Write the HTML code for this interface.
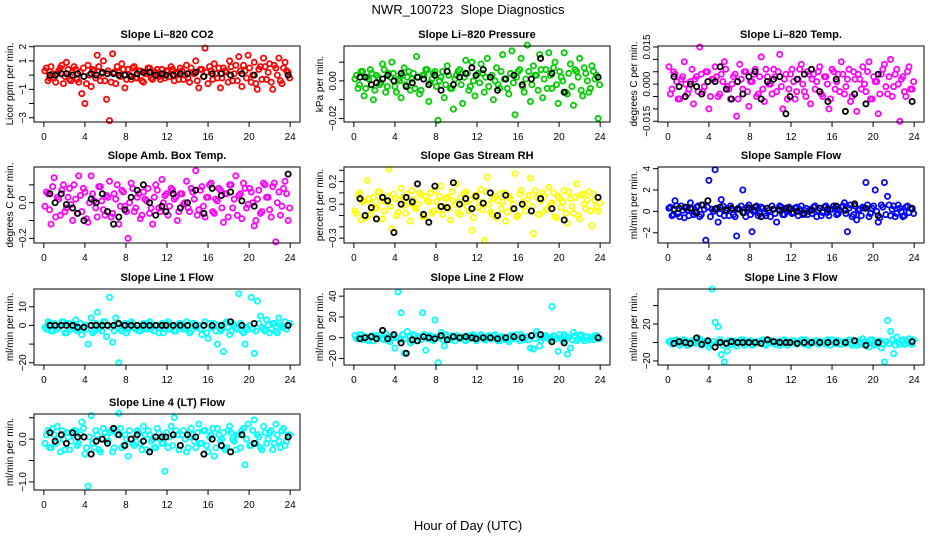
<!DOCTYPE html>
<html><head><meta charset="utf-8"><style>
html,body{margin:0;padding:0;background:#fff;}
svg{display:block;font-family:"Liberation Sans",sans-serif;}
</style></head><body>
<svg id="chart" width="936" height="540" viewBox="0 0 936 540">
<text x="468" y="14" text-anchor="middle" font-size="13">NWR_100723&#160;&#160;Slope Diagnostics</text>
<text x="468" y="530" text-anchor="middle" font-size="13">Hour of Day (UTC)</text>
</svg>
<script>
const hours = [0.1,0.4,0.7,1.0,1.3,1.6,1.9,2.2,2.5,2.8,3.1,3.4,3.7,4.0,4.3,4.6,4.9,5.2,5.5,5.8,6.1,6.4,6.7,7.0,7.3,7.6,7.9,8.2,8.5,8.8,9.1,9.4,9.7,10.0,10.3,10.6,10.9,11.2,11.5,11.8,12.1,12.4,12.7,13.0,13.3,13.6,13.9,14.2,14.5,14.8,15.1,15.4,15.7,16.0,16.3,16.6,16.9,17.2,17.5,17.8,18.1,18.4,18.7,19.0,19.3,19.6,19.9,20.2,20.5,20.8,21.1,21.4,21.7,22.0,22.3,22.6,22.9,23.2,23.5,23.8];
const hours2 = [0.25,0.55,0.85,1.15,1.45,1.75,2.05,2.35,2.65,2.95,3.25,3.55,3.85,4.15,4.45,4.75,5.05,5.35,5.65,5.95,6.25,6.55,6.85,7.15,7.45,7.75,8.05,8.35,8.65,8.95,9.25,9.55,9.85,10.15,10.45,10.75,11.05,11.35,11.65,11.95,12.25,12.55,12.85,13.15,13.45,13.75,14.05,14.35,14.65,14.95,15.25,15.55,15.85,16.15,16.45,16.75,17.05,17.35,17.65,17.95,18.25,18.55,18.85,19.15,19.45,19.75,20.05,20.35,20.65,20.95,21.25,21.55,21.85,22.15,22.45,22.75,23.05,23.35,23.65,23.95];
const meanHours = [0.6,1.1,1.7,2.2,2.8,3.3,3.9,4.6,5.1,5.7,6.2,6.8,7.3,7.9,8.5,9.1,9.7,10.3,10.9,11.5,11.9,12.6,13.3,14.0,14.8,15.6,16.4,17.3,18.2,19.3,20.5,23.8];
const xTicks = [0,4,8,12,16,20,24];

const co2 = [0.3,-0.4,0.6,-0.2,0.1,0.5,-0.6,0.9,-0.3,0.2, 0.4,-0.5,-1.3,-2.0,0.7,-0.8,0.3,1.4,-0.4,1.0, -1.7,-3.2,1.5,-0.6,0.2,0.8,-0.9,0.4,-0.3,0.6, -0.2,0.3,-0.5,0.1,0.5,-0.3,0.2,-0.1,0.4,-0.2, 0.3,0.6,-0.4,0.1,0.5,-0.3,0.7,-0.5,0.2,1.0, -0.9,0.4,1.9,-0.6,0.3,0.8,-0.2,-0.9,0.5,0.2, 1.0,-0.4,0.7,1.3,-0.8,0.3,1.4,-0.5,0.9,-1.0, 0.6,1.2,-0.3,0.8,-1.0,0.5,1.2,-0.6,0.9,0.2];
const co2Band = [0.5,-0.2,0.1,-0.5,0.3,0.7,-0.1,0.4,-0.4,0.6, -0.3,0.2,0.5,-0.6,0.0,0.4,-0.2,0.6,0.1,-0.4, 0.3,-0.5,0.2,0.6,-0.1,0.4,-0.3,0.0,0.5,-0.2, 0.3,-0.4,0.1,0.5,-0.2,0.2,0.4,-0.3,0.0,0.3, -0.1,0.4,0.2,-0.3,0.3,0.0,-0.2,0.5,0.1,-0.4, 0.4,-0.1,0.2,0.6,-0.3,0.1,0.5,-0.2,0.3,-0.5, 0.6,0.1,-0.4,0.3,0.7,-0.2,0.5,0.0,-0.6,0.4, -0.3,0.6,0.2,-0.5,0.7,0.0,-0.4,0.5,0.3,-0.2];
const co2Mean = [0,0,0.1,0.1,0,0.1,-0.1,0.1,0,0.2,0.1,0.1,0,0,-0.1,0.1,0.2,0.2,0,0.1,0,0,0.1,0.1,0.2,-0.1,0.1,0.1,0,0.1,0,0];
const pres = [0.001,-0.004,0.005,-0.008,0.002,0.006,-0.010,0.003,-0.002,0.009, -0.006,0.004,0.010,-0.003,0.001,-0.009,0.007,0.002,-0.005,0.004, 0.013,-0.007,0.003,0.006,-0.011,0.001,0.005,-0.021,0.002,-0.009, 0.008,-0.004,-0.015,0.003,0.006,-0.012,0.011,-0.005,0.010,-0.008, 0.004,0.009,-0.006,0.012,0.002,-0.010,0.007,-0.004,0.014,0.001, -0.007,0.016,-0.018,0.005,0.012,-0.006,0.019,-0.011,0.008,0.003, 0.014,-0.009,0.006,0.015,-0.004,0.010,-0.012,0.002,0.015,-0.007, 0.009,-0.013,0.005,0.012,-0.008,0.004,-0.006,0.008,0.001,-0.020];
const presBand = [0.003,-0.002,0.005,-0.004,0.001,0.004,-0.005,0.002,-0.001,0.006, -0.003,0.002,0.004,-0.006,0.000,0.003,-0.002,0.005,0.001,-0.004, 0.002,-0.005,0.003,0.006,-0.001,0.004,-0.003,0.000,0.005,-0.002, 0.003,-0.004,0.001,0.005,-0.002,0.002,0.004,-0.003,0.000,0.003, -0.001,0.004,0.002,-0.003,0.003,0.000,-0.002,0.005,0.001,-0.004, 0.004,-0.001,0.002,0.006,-0.003,0.001,0.005,-0.002,0.003,-0.005, 0.006,0.001,-0.004,0.003,0.007,-0.002,0.005,0.000,-0.006,0.004, -0.003,0.006,0.002,-0.005,0.007,0.000,-0.004,0.005,0.003,-0.002];
const presMean = [0.002,0.002,-0.002,-0.001,0.001,0.003,0,0.004,-0.003,-0.001,0.002,0.001,-0.002,0.003,-0.005,0.005,-0.002,0.002,0.004,0.007,0.003,0.006,0.002,-0.005,0.001,0.003,-0.002,0.001,0.012,0.004,-0.006,0.002];
const temp = [0.007,-0.002,0.004,-0.006,0.002,0.009,-0.004,0.001,-0.008,0.003, 0.015,-0.003,0.005,-0.010,0.002,0.007,-0.005,0.004,0.009,-0.001, -0.006,0.003,-0.013,0.008,-0.002,0.005,-0.009,0.001,0.006,-0.004, 0.011,-0.007,0.003,0.000,0.006,-0.003,0.012,-0.010,0.004,-0.002, 0.006,-0.006,0.002,0.008,-0.003,0.005,-0.008,0.004,0.001,0.007, -0.005,0.003,-0.010,0.006,-0.002,0.004,0.009,-0.004,0.002,-0.007, 0.005,-0.011,0.002,0.007,-0.003,0.009,-0.006,0.001,-0.012,0.004, 0.008,-0.004,0.010,-0.001,0.006,-0.015,0.003,-0.005,0.007,-0.002];
const tempBand = [-0.004,0.005,0.001,-0.006,0.003,0.000,-0.002,0.006,0.002,-0.003, 0.004,-0.001,0.005,-0.005,0.002,0.003,-0.004,0.001,0.006,-0.002, 0.000,0.004,-0.006,0.002,0.005,-0.003,0.001,0.004,-0.005,0.003, -0.002,0.006,0.000,-0.004,0.003,0.005,-0.001,0.002,-0.006,0.004, 0.001,-0.003,0.006,0.000,-0.005,0.004,0.002,-0.002,0.005,-0.004, 0.003,0.000,-0.006,0.005,0.001,-0.003,0.004,-0.001,0.006,-0.005, 0.002,0.004,-0.002,0.000,0.005,-0.006,0.003,0.001,-0.004,0.006, -0.001,0.003,-0.005,0.004,0.000,0.002,-0.003,0.005,-0.002,0.001];
const tempMean = [0.003,-0.001,-0.005,0.000,-0.001,-0.004,0.001,0.001,0.007,-0.002,-0.006,0.001,-0.004,0.003,0.005,-0.006,0.001,0.002,0.003,-0.012,-0.005,0.002,0.004,0.006,-0.003,-0.007,0.002,-0.011,-0.004,-0.008,0.004,-0.007];
const amb = [-0.02,0.05,-0.12,0.14,0.03,-0.07,0.10,-0.03,0.08,-0.10, 0.02,0.15,-0.05,0.06,-0.11,0.15,0.01,-0.08,0.09,-0.04, 0.04,0.12,-0.06,0.02,-0.12,0.07,-0.02,-0.20,0.11,-0.05, 0.03,-0.09,0.06,0.01,-0.06,-0.12,0.10,-0.03,0.13,0.04, -0.07,0.08,0.02,-0.10,0.05,-0.01,0.12,-0.05,0.06,0.18, -0.04,0.09,-0.08,0.03,0.11,-0.06,0.01,0.07,-0.11,0.05, 0.10,-0.03,0.15,0.04,-0.09,0.08,-0.01,0.06,-0.13,0.02, -0.06,0.11,0.03,-0.04,0.09,-0.22,0.06,-0.02,0.12,-0.10];
const ambBand = [0.06,-0.04,0.09,-0.08,0.02,0.07,-0.05,0.03,-0.01,0.10, -0.06,0.04,0.08,-0.09,0.00,0.05,-0.03,0.09,0.01,-0.07, 0.03,-0.08,0.05,0.10,-0.02,0.06,-0.05,0.00,0.08,-0.03, 0.05,-0.07,0.02,0.08,-0.03,0.03,0.07,-0.05,0.00,0.05, -0.02,0.07,0.03,-0.05,0.05,0.00,-0.03,0.08,0.02,-0.07, 0.07,-0.02,0.03,0.10,-0.05,0.02,0.08,-0.03,0.05,-0.08, 0.10,0.02,-0.07,0.05,0.11,-0.03,0.08,0.00,-0.10,0.07, -0.05,0.10,0.03,-0.08,0.11,0.00,-0.07,0.08,0.05,-0.03];
const ambMean = [0.05,0.00,0.05,-0.01,-0.03,-0.06,-0.10,0.02,0.00,0.05,-0.05,-0.12,-0.08,-0.04,0.03,0.07,0.10,0.00,-0.07,-0.02,-0.05,0.05,-0.03,0.00,0.07,-0.06,0.08,0.04,0.06,0.01,-0.02,0.16];
const rh = [-0.06,0.08,-0.14,0.03,0.21,-0.09,0.06,-0.03,0.11,-0.13, 0.02,0.31,-0.22,0.05,-0.07,0.14,-0.01,0.09,-0.15,0.04, -0.04,0.10,-0.11,0.07,0.02,-0.08,0.12,-0.05,0.16,-0.02, 0.06,-0.14,0.03,0.18,-0.09,0.01,0.11,-0.06,-0.23,0.08, -0.03,0.13,-0.32,0.24,-0.07,0.05,-0.12,0.09,0.02,-0.15, 0.07,-0.04,0.27,-0.10,0.12,-0.02,0.04,0.23,-0.26,0.06, -0.09,0.10,-0.05,0.15,0.01,-0.11,0.07,-0.03,0.12,-0.17, 0.05,-0.08,0.18,-0.13,0.09,-0.04,0.11,-0.19,0.03,-0.06];
const rhBand = [-0.08,0.10,0.02,-0.12,0.05,0.00,-0.04,0.11,0.03,-0.06, 0.07,-0.02,0.09,-0.10,0.04,0.06,-0.08,0.01,0.12,-0.03, 0.00,0.08,-0.11,0.03,0.10,-0.06,0.02,0.07,-0.09,0.05, -0.04,0.11,0.00,-0.07,0.06,0.09,-0.02,0.04,-0.12,0.08, 0.02,-0.05,0.11,0.00,-0.09,0.07,0.03,-0.04,0.10,-0.07, 0.05,0.00,-0.11,0.09,0.02,-0.06,0.08,-0.02,0.12,-0.09, 0.03,0.07,-0.04,0.00,0.10,-0.12,0.05,0.02,-0.08,0.11, -0.02,0.06,-0.10,0.08,0.00,0.04,-0.06,0.09,-0.03,0.01];
const rhMean = [0.05,-0.10,-0.03,-0.13,0.06,0.03,-0.25,0.00,0.06,0.02,0.18,-0.09,-0.16,0.16,-0.02,-0.03,0.19,0.00,0.05,-0.04,0.07,0.01,0.10,-0.10,0.08,-0.04,0.00,-0.06,0.05,-0.04,-0.14,0.06];
const samp = [0.3,-0.4,1.0,-0.2,0.5,-0.6,0.1,0.8,-0.3,0.4, -0.5,0.6,-2.7,2.9,0.2,3.9,-1.0,1.1,-0.4,0.3, 0.5,-0.3,-2.3,0.2,2.0,-0.5,0.6,-1.9,0.1,-0.4, 0.4,-0.2,0.3,-0.5,0.2,-1.0,0.5,-0.3,0.1,0.4, -0.2,0.3,-0.4,0.5,0.1,-0.3,0.2,0.4,-0.5,0.3, -0.1,0.5,-0.4,0.2,0.3,-0.2,0.4,0.8,-1.9,0.6, -0.3,-0.8,0.2,0.4,2.7,-0.5,0.3,2.0,-1.0,0.6, 2.7,1.4,-0.4,0.5,-0.2,0.3,-0.5,0.4,-0.1,0.2];
const sampBand = [0.4,-0.3,0.5,-0.5,0.1,0.3,-0.4,0.2,-0.1,0.5, -0.3,0.2,0.4,-0.5,0.0,0.3,-0.2,0.5,0.1,-0.4, 0.2,-0.5,0.3,0.5,-0.1,0.4,-0.3,0.0,0.5,-0.2, 0.3,-0.4,0.1,0.5,-0.2,0.2,0.4,-0.3,0.0,0.3, -0.1,0.4,0.2,-0.3,0.3,0.0,-0.2,0.5,0.1,-0.4, 0.4,-0.1,0.2,0.5,-0.3,0.1,0.5,-0.2,0.3,-0.5, 0.5,0.1,-0.4,0.3,0.6,-0.2,0.5,0.0,-0.6,0.4, -0.3,0.6,0.2,-0.5,0.6,0.0,-0.4,0.5,0.3,-0.2];
const sampMean = [0.2,0.3,0.4,0.3,-0.1,0.6,1.0,0.2,0.4,0.1,0.3,0.2,-0.1,0.3,0.4,-0.5,0.3,0.2,0.1,0.3,0.2,0.0,-0.2,0.1,0.3,0.2,0.5,0.1,0.7,0.3,-0.4,0.3];
const line1 = [-1,2,-3,1,-2,0,2,-4,1,-1, 3,-2,-5,0,-10,4,-3,7,-1,2, -6,15,-9,4,-20,-3,1,-2,2,-1, 0,-3,1,-2,2,-1,0,-4,1,-2, 2,-1,-3,0,1,-2,2,-4,1,-1, 0,-5,2,-7,-1,1,-10,-3,-14,2, -5,1,-1,17,-3,-10,-2,15,-15,13, 5,-2,3,-4,1,-3,4,-1,2,0];
const line1Band = [-2,1,-3,0,-1,2,-4,1,-2,0, -3,1,-1,-2,0,-4,1,-2,-3,2, 0,-1,-3,1,-2,0,-4,-1,1,-2, -3,0,-1,1,-2,-3,0,-1,-4,1, -2,0,-3,1,-1,-2,0,-3,1,-1, -2,0,-4,1,-1,-3,0,-2,1,-1, -3,0,-2,1,-4,-1,0,-2,-3,1, -1,-3,0,-2,1,-4,0,-1,-2,1];
const line1Mean = [0,0,0,0,0,-1,-1,0,0,0,0,0,1,0,0,0,0,0,0,0,0,0,0,0,0,0,0,0,2,0,1,0];
const line2 = [2,-1,3,0,-2,1,-3,2,0,-1, 4,-2,1,-10,44,24,-15,6,-5,3, -3,1,24,-12,2,-2,17,-24,5,-8, 1,-2,0,2,-1,1,-3,0,2,-1, 0,3,-2,1,-1,2,0,-3,1,-2, -4,2,0,-1,3,-2,1,-10,-11,6, -8,0,2,-1,30,1,-13,0,3,-16, -10,5,-3,2,-1,1,-2,0,2,-1];
const line2Band = [-1,3,-2,1,-3,2,0,-1,3,-2, 1,-4,2,0,-2,3,-1,1,-3,2, 0,-2,3,-1,2,-3,1,0,-2,3, -1,2,-3,1,0,-2,2,-1,3,-3, 1,0,-2,2,-1,3,-3,1,0,-2, 2,-1,3,-3,1,0,-2,2,-1,3, -3,1,0,-2,2,-1,3,-3,1,0, -2,2,-1,3,-3,1,0,-2,2,-1];
const line2Mean = [-1,0,1,-1,7,-1,3,-5,-15,-2,-3,1,0,-1,2,-2,1,0,1,0,-1,0,0,-1,0,1,0,2,3,-4,-5,0];
const line3 = [1,-2,2,0,-1,3,-3,1,0,2, 4,-2,1,-5,58,22,17,-13,-21,-9, -2,2,-4,1,3,-1,2,-3,0,1, 1,-2,2,0,-1,1,-3,2,0,-1, 2,-1,0,3,-2,1,-1,0,2,-1, 0,-2,1,3,-1,2,-2,0,1,-1, 2,-3,0,4,-1,-5,3,-2,1,-6, -21,24,12,-12,6,-2,3,-1,4,-2];
const line3Band = [2,-1,3,-3,0,1,-2,2,-1,3, -3,0,2,-2,1,-1,3,-3,0,2, -2,1,-1,3,-3,0,2,-2,1,-1, 3,-3,0,2,-2,1,-1,3,-3,0, 2,-2,1,-1,3,-3,0,2,-2,1, -1,3,-3,0,2,-2,1,-1,3,-3, 0,2,-2,1,-1,3,-3,0,2,-2, 1,-1,3,-3,0,2,-2,1,-1,3];
const line3Mean = [-1,1,0,-1,5,-2,2,-5,0,-1,1,0,0,0,0,-1,3,1,0,0,0,-1,0,0,0,0,0,0,2,-3,0,1];
const line4 = [-0.1,0.2,-0.2,0.1,0.3,-0.3,0.0,0.15,-0.25,0.1, 0.2,-0.1,0.4,-0.35,-1.1,0.55,-0.2,0.1,-0.3,0.25, 0.05,0.15,-0.3,0.2,0.6,-0.2,0.1,-0.4,0.0,-0.15, 0.2,-0.1,0.3,-0.25,0.1,0.0,-0.2,0.15,-0.1,-0.75, -0.2,0.3,0.5,0.1,-0.15,0.2,-0.3,0.05,0.1,-0.2, 0.35,-0.1,0.2,-0.3,0.1,-0.4,0.25,-0.05,0.15,-0.2, 0.3,0.0,-0.25,0.1,0.2,-0.6,0.35,-0.15,0.45,0.1, -0.2,0.3,-0.1,0.15,-0.25,0.35,-0.05,0.2,-0.15,0.1];
const line4Band = [0.1,-0.2,0.25,-0.1,0.0,0.2,-0.25,0.15,-0.05,0.2, -0.15,0.1,0.25,-0.2,0.05,-0.1,0.2,-0.25,0.0,0.15, -0.05,0.2,-0.2,0.1,0.25,-0.15,0.0,0.2,-0.1,0.05, 0.15,-0.25,0.1,0.2,-0.05,-0.2,0.25,0.0,-0.1,0.15, 0.05,-0.15,0.2,-0.25,0.1,0.0,-0.2,0.25,-0.05,0.15, -0.1,0.2,-0.15,0.05,0.25,-0.2,0.1,0.0,-0.25,0.2, 0.15,-0.05,0.1,-0.2,0.25,0.0,-0.15,0.2,-0.1,0.05, -0.25,0.15,0.0,0.2,-0.1,0.1,-0.2,0.25,-0.05,0.1];
const line4Mean = [0.15,-0.05,0.1,-0.1,0.15,0.05,0.05,-0.35,-0.05,0.0,-0.1,0.25,0.1,-0.15,0.0,0.1,-0.05,-0.3,0.05,0.05,0.05,0.1,-0.15,0.1,0.05,-0.35,0.0,-0.15,-0.3,0.1,-0.1,0.05];

const panels = [
 {name:'co2',title:'Slope Li\u2013820 CO2',ylab:'Licor ppm per min.',color:'#ff0000',vals:co2,band:co2Band,means:co2Mean,ylim:[-3.3,2.05],ticks:[-3,-2,-1,0,1,2],labels:[['-3','\u22123'],['-1','\u22121'],['1','1'],['2','2']]},
 {name:'pressure',title:'Slope Li\u2013820 Pressure',ylab:'kPa per min.',color:'#00cc00',vals:pres,band:presBand,means:presMean,ylim:[-0.0219,0.0186],ticks:[-0.02,-0.01,0,0.01],labels:[['-0.02','\u22120.02'],['0','0.00']]},
 {name:'temp',title:'Slope Li\u2013820 Temp.',ylab:'degrees C per min.',color:'#ff00ff',vals:temp,band:tempBand,means:tempMean,ylim:[-0.0153,0.0154],ticks:[-0.015,-0.01,-0.005,0,0.005,0.01,0.015],labels:[['-0.015','\u22120.015'],['0','0.000'],['0.015','0.015']]},
 {name:'amb-box-temp',title:'Slope Amb. Box Temp.',ylab:'degrees C per min.',color:'#ff00ff',vals:amb,band:ambBand,means:ambMean,ylim:[-0.226,0.2],ticks:[-0.2,-0.1,0,0.1],labels:[['-0.2','\u22120.2'],['0','0.0']]},
 {name:'gas-stream-rh',title:'Slope Gas Stream RH',ylab:'percent per min.',color:'#ffff00',vals:rh,band:rhBand,means:rhMean,ylim:[-0.343,0.329],ticks:[-0.3,-0.2,-0.1,0,0.1,0.2,0.3],labels:[['-0.3','\u22120.3'],['0','0.0'],['0.2','0.2']]},
 {name:'sample-flow',title:'Slope Sample Flow',ylab:'ml/min per min.',color:'#0000ff',vals:samp,band:sampBand,means:sampMean,ylim:[-2.96,4.155],ticks:[-2,0,2,4],labels:[['-2','\u22122'],['0','0'],['2','2'],['4','4']]},
 {name:'line1-flow',title:'Slope Line 1 Flow',ylab:'ml/min per min.',color:'#00ffff',vals:line1,band:line1Band,means:line1Mean,ylim:[-21.2,19.5],ticks:[-20,-10,0,10],labels:[['-20','\u221220'],['0','0'],['10','10']]},
 {name:'line2-flow',title:'Slope Line 2 Flow',ylab:'ml/min per min.',color:'#00ffff',vals:line2,band:line2Band,means:line2Mean,ylim:[-26.3,46.9],ticks:[-20,0,20,40],labels:[['-20','\u221220'],['0','0'],['20','20'],['40','40']]},
 {name:'line3-flow',title:'Slope Line 3 Flow',ylab:'ml/min per min.',color:'#00ffff',vals:line3,band:line3Band,means:line3Mean,ylim:[-24.4,58],ticks:[-20,0,20,40],labels:[['-20','\u221220'],['20','20']]},
 {name:'line4-flow',title:'Slope Line 4 (LT) Flow',ylab:'ml/min per min.',color:'#00ffff',vals:line4,band:line4Band,means:line4Mean,ylim:[-1.19,0.587],ticks:[-1,-0.5,0,0.5],labels:[['-1','\u22121.0'],['0','0.0']]}
];

const NS='http://www.w3.org/2000/svg';
const svg=document.getElementById('chart');
const colLeft=[34,344,658], rowTop=[46,167,289,414], W=266, H=76;
const xMin=-0.96, xMax=24.96;
function mk(tag,attrs,parent){const e=document.createElementNS(NS,tag);for(const k in attrs)e.setAttribute(k,attrs[k]);parent.appendChild(e);return e;}

panels.forEach((p,idx)=>{
  const L=colLeft[idx%3], T=rowTop[Math.floor(idx/3)];
  const g=mk('g',{},svg);
  
  
  const sx=v=>L+(v-xMin)/(xMax-xMin)*W;
  const sy=v=>T+H-(v-p.ylim[0])/(p.ylim[1]-p.ylim[0])*H;
  const pts=mk('g',{fill:'none',stroke:p.color,'stroke-width':1.8},g);
  
  
  p.band.forEach((v,i)=>{
    const c=mk('circle',{cx:sx(hours2[i]).toFixed(1),cy:sy(v).toFixed(1),r:2.6},pts);
    
    
  });
  p.vals.forEach((v,i)=>{
    const c=mk('circle',{cx:sx(hours[i]).toFixed(1),cy:sy(v).toFixed(1),r:2.6},pts);
    
    
  });
  const mg=mk('g',{fill:'none',stroke:'#000','stroke-width':1.8},g);
  
  
  p.means.forEach((v,i)=>{
    const c=mk('circle',{cx:sx(meanHours[i]).toFixed(1),cy:sy(v).toFixed(1),r:2.6},mg);
    
    
  });
  const box=mk('rect',{x:L,y:T,width:W,height:H,fill:'none',stroke:'#000','stroke-width':1},g);
  
  
  const t=mk('text',{x:L+W/2,y:T-8,'text-anchor':'middle','font-size':11,'font-weight':'bold'},g);
  t.textContent=p.title;
  
  
  const xa=mk('g',{stroke:'#000','stroke-width':1},g);
  
  
  mk('line',{x1:sx(0),x2:sx(24),y1:T+H,y2:T+H},xa);
  xTicks.forEach(v=>{
    mk('line',{x1:sx(v),x2:sx(v),y1:T+H,y2:T+H+5},xa);
    const tl=mk('text',{x:sx(v),y:T+H+18,'text-anchor':'middle','font-size':10,stroke:'none',fill:'#000'},xa);
    tl.textContent=v;
    
    
  });
  const ya=mk('g',{stroke:'#000','stroke-width':1},g);
  
  
  mk('line',{x1:L,x2:L,y1:sy(p.ticks[0]),y2:sy(p.ticks[p.ticks.length-1])},ya);
  p.ticks.forEach(v=>{mk('line',{x1:L-5,x2:L,y1:sy(v),y2:sy(v)},ya);});
  p.labels.forEach(([v,s])=>{
    const y=sy(parseFloat(v)), x=L-8;
    const tl=mk('text',{x:x,y:y,'text-anchor':'middle','font-size':10,stroke:'none',fill:'#000',transform:`rotate(-90 ${x} ${y})`},ya);
    tl.textContent=s;
    
    
  });
  const yx=L-21, yy=T+H/2;
  const yl=mk('text',{x:yx,y:yy,'text-anchor':'middle','font-size':10,transform:`rotate(-90 ${yx} ${yy})`},g);
  yl.textContent=p.ylab;
  
  
});
</script>
</body></html>
